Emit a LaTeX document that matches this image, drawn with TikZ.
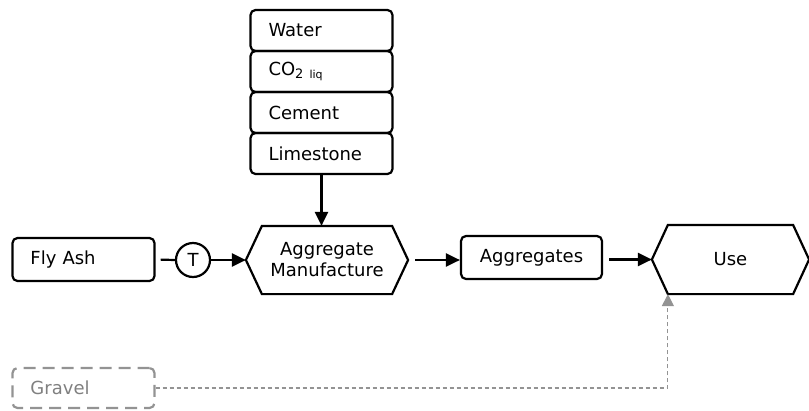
\documentclass[tikz,border=0pt]{standalone}
\usepackage{fontspec}
\setmainfont{DejaVu Sans}
\usetikzlibrary{arrows.meta,positioning}

\begin{document}
\begin{tikzpicture}[
        x=1pt, y=-1pt,
        font=\fontsize{18}{21}\selectfont,
        line width=2.2pt,
        input node/.style={rectangle, rounded corners=5pt, draw,
                minimum width=142pt, minimum height=41pt,
                text width=106pt, inner xsep=18pt, align=left},
        stock node/.style={rectangle, rounded corners=5pt, draw,
                minimum width=141pt, minimum height=43pt, align=center},
        process node/.style={rectangle, minimum width=160pt,
                minimum height=66pt, align=center},
        tee node/.style={circle, draw, minimum size=34pt, inner sep=0pt},
        flow/.style={-{Triangle[length=14pt,width=13pt]}},
        feed/.style={gray!85, line width=1.1pt, dash pattern=on 4pt off 3pt,
                -{Triangle[length=12pt,width=12pt]}},
        gravel node/.style={input node, gray!85, text=gray, minimum height=40pt,
                dash pattern=on 12pt off 7pt},
    ]
    \newcommand*{\HexCut}{16pt}
    % hexagon round a node of process style
    \newcommand*{\HexFrame}[1]{%
        \draw (#1.west)
            -- ([xshift=\HexCut]#1.north west)
            -- ([xshift=-\HexCut]#1.north east)
            -- (#1.east)
            -- ([xshift=-\HexCut]#1.south east)
            -- ([xshift=\HexCut]#1.south west)
            -- cycle;}

    \useasboundingbox (0, 0) rectangle (809, 410);

    % Inputs of the aggregate manufacture
    \node[input node] (water) at (321.5, 30.5) {Water};
    \node[input node] (co2) at (321.5, 71.5)
        {CO\raisebox{-0.3ex}{\fontsize{13}{13}\selectfont 2
            \fontsize{11}{11}\selectfont liq}};
    \node[input node] (cement) at (321.5, 112.5) {Cement};
    \node[input node] (limestone) at (321.5, 153.5) {Limestone};

    \node[input node, minimum height=43pt] (flyash) at (83.5, 259.5) {Fly Ash};
    \node[gravel node] (gravel) at (83.5, 388) {Gravel};
    \node[tee node] (tee) at (193, 260) {T};

    % Processes and stocks
    \node[process node] (manufacture) at (327, 260) {Aggregate\\Manufacture};
    \HexFrame{manufacture}
    \node[stock node] (aggregates) at (531.5, 257.5) {Aggregates};
    \node[process node, minimum width=155pt, minimum height=67pt] (use)
        at (730.5, 259.5) {Use};
    \HexFrame{use}

    % Connectors
    \draw[flow] (limestone.south) -- (limestone.south |- manufacture.north);
    \draw[shorten <=5pt] (flyash.east) -- (tee.west);
    \draw[flow] (tee.east) -- (manufacture.west);
    \draw[flow, shorten <=7pt] (manufacture.east) -- (manufacture.east -| aggregates.west);
    \draw[flow, shorten <=6pt] (aggregates.east |- use.west) -- (use.west);

    \coordinate (gravel in) at ([xshift=\HexCut]use.south west);
    \draw[feed] (gravel.east) -| (gravel in);
\end{tikzpicture}
\end{document}
